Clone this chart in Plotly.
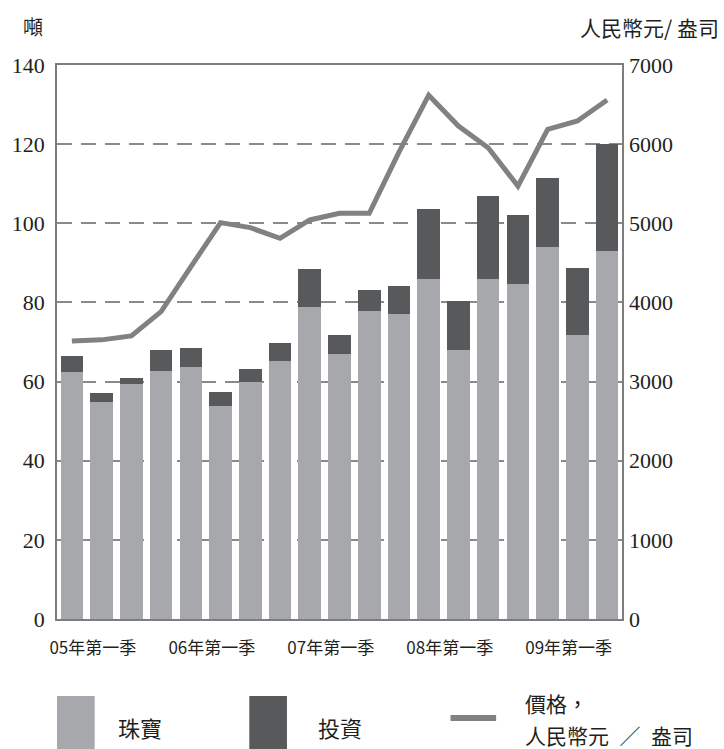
import plotly.graph_objects as go

# Quarterly gold demand (tonnes) and average price (RMB / oz), 2005 Q1 - 2009 Q3
quarters = [
    "05Q1", "05Q2", "05Q3", "05Q4",
    "06Q1", "06Q2", "06Q3", "06Q4",
    "07Q1", "07Q2", "07Q3", "07Q4",
    "08Q1", "08Q2", "08Q3", "08Q4",
    "09Q1", "09Q2", "09Q3",
]
jewellery = [62.4, 54.9, 59.4, 62.7, 63.7, 53.9, 59.9, 65.3, 78.9, 67.0,
             77.9, 77.1, 85.9, 68.0, 85.9, 84.7, 94.0, 71.8, 93.0]
investment = [4.1, 2.3, 1.5, 5.3, 4.8, 3.5, 3.3, 4.5, 9.6, 4.8,
              5.3, 7.1, 17.8, 12.4, 21.0, 17.4, 17.5, 16.9, 27.1]
price = [3514, 3527, 3577, 3884, 4450, 5008, 4945, 4810, 5042, 5126,
         5126, 5900, 6619, 6229, 5955, 5470, 6187, 6292, 6557]

tick_positions = [0, 4, 8, 12, 16]
tick_labels = ["05年第一季", "06年第一季", "07年第一季", "08年第一季", "09年第一季"]

LIGHT = "#a7a8ab"
DARK = "#58595b"
LINE = "#818184"
FRAME = "#7d7d7d"
TEXT = "#231f20"
SERIF = "Liberation Serif, Noto Sans CJK TC, serif"
CJK = "Noto Sans CJK TC, sans-serif"

x = list(range(len(quarters)))

fig = go.Figure()
fig.add_trace(go.Bar(x=x, y=jewellery, name="珠寶", marker=dict(color=LIGHT, line=dict(width=0)),
                     width=0.76))
fig.add_trace(go.Bar(x=x, y=investment, name="投資", marker=dict(color=DARK, line=dict(width=0)),
                     width=0.76))
fig.add_trace(go.Scatter(x=x, y=price, name="價格", mode="lines", yaxis="y2",
                         line=dict(color=LINE, width=5)))

fig.update_layout(
    width=724, height=749,
    margin=dict(l=52, r=102, t=65, b=130),
    paper_bgcolor="white", plot_bgcolor="white",
    barmode="stack", bargap=0,
    showlegend=False,
    xaxis=dict(
        range=[-0.5, 18.5], tickmode="array", tickvals=tick_positions, ticktext=tick_labels,
        tickfont=dict(family=CJK, size=17, color=TEXT),
        ticklabelshift=21, ticklabelstandoff=13,
        showline=True, linecolor=FRAME, linewidth=1.5, mirror=True,
        showgrid=False, zeroline=False, ticks="",
    ),
    yaxis=dict(
        range=[0, 140], tickmode="linear", tick0=0, dtick=20,
        tickfont=dict(family=SERIF, size=22, color=TEXT),
        ticklabelstandoff=6,
        showline=True, linecolor=FRAME, linewidth=1.5, mirror=True,
        showgrid=True, gridcolor="#8a8a8a", gridwidth=1.5, griddash="15px,9px",
        zeroline=False, ticks="",
    ),
    yaxis2=dict(
        range=[0, 7000], tickmode="linear", tick0=0, dtick=1000,
        overlaying="y", side="right",
        tickfont=dict(family=SERIF, size=22, color=TEXT),
        ticklabelstandoff=6,
        showgrid=False, zeroline=False, showline=False, ticks="",
    ),
)


# Pixel helpers relative to the plot area (left=52, bottom=619, 570 x 554)
def px(xp):
    return (xp - 52) / 570


def py(yp):
    return (619 - yp) / 554


# Axis unit titles
fig.add_annotation(text="噸", xref="paper", yref="paper", x=px(16), y=py(26),
                   xanchor="left", yanchor="middle", showarrow=False,
                   font=dict(family=CJK, size=20, color=TEXT))
fig.add_annotation(text="人民幣元/ 盎司", xref="paper", yref="paper", x=px(722), y=py(27),
                   xanchor="right", yanchor="middle", showarrow=False,
                   font=dict(family=CJK, size=21, color=TEXT))

# Legend
fig.add_shape(type="rect", xref="paper", yref="paper", x0=px(52), x1=px(90), y0=py(749), y1=py(696),
              fillcolor=LIGHT, line=dict(width=0))
fig.add_shape(type="rect", xref="paper", yref="paper", x0=px(246), x1=px(284), y0=py(749), y1=py(696),
              fillcolor=DARK, line=dict(width=0))
fig.add_shape(type="line", xref="paper", yref="paper", x0=px(449), x1=px(495), y0=py(718), y1=py(718),
              line=dict(color=LINE, width=6))
fig.add_annotation(text="珠寶", xref="paper", yref="paper", x=px(112), y=py(727),
                   xanchor="left", yanchor="middle", showarrow=False,
                   font=dict(family=CJK, size=22, color=TEXT))
fig.add_annotation(text="投資", xref="paper", yref="paper", x=px(313), y=py(727),
                   xanchor="left", yanchor="middle", showarrow=False,
                   font=dict(family=CJK, size=22, color=TEXT))
fig.add_annotation(text="價格，", xref="paper", yref="paper", x=px(523), y=py(719),
                   xanchor="left", yanchor="bottom", showarrow=False, borderpad=0,
                   font=dict(family=CJK, size=21, color=TEXT))
fig.add_annotation(text="人民幣元\u2002／\u2002盎司", xref="paper", yref="paper", x=px(523), y=py(719),
                   xanchor="left", yanchor="top", showarrow=False, borderpad=0,
                   font=dict(family=CJK, size=21, color=TEXT))

fig.write_html("out.html")
